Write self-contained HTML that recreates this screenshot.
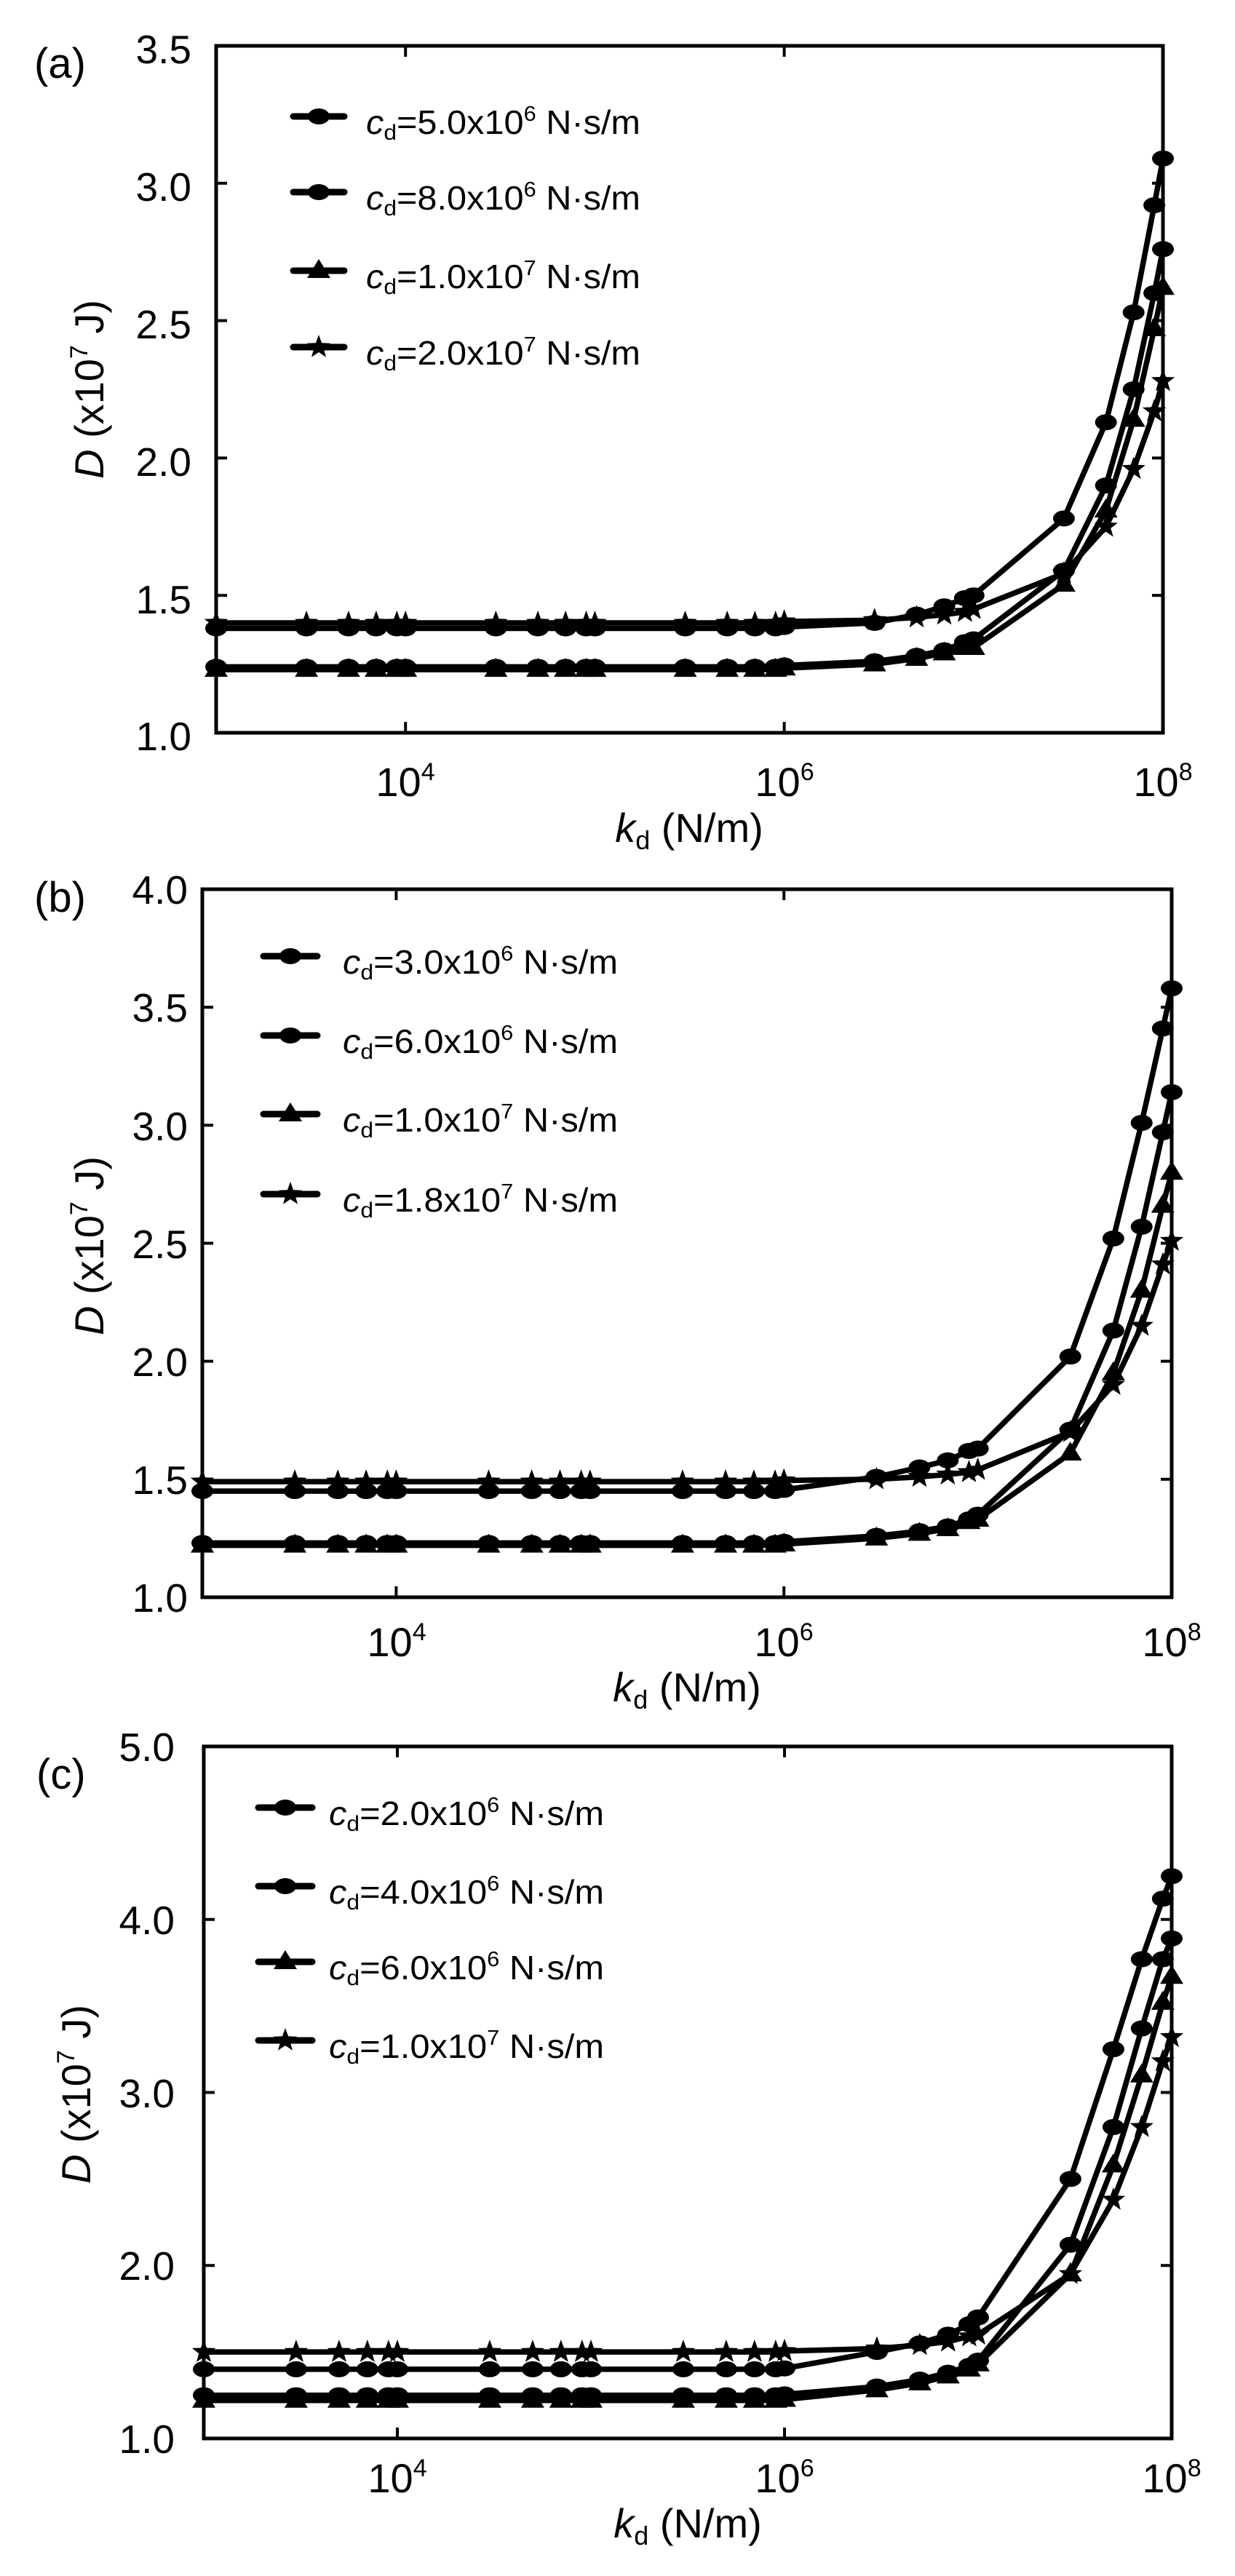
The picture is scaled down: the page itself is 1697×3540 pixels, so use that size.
<!DOCTYPE html>
<html><head><meta charset="utf-8">
<style>
html,body{margin:0;padding:0;background:#fff;}
svg{display:block;}
text{font-family:"Liberation Sans",Arial,sans-serif;fill:#000;}
</style></head>
<body>
<svg id="s" width="1697" height="3540" viewBox="0 0 1697 3540" xmlns="http://www.w3.org/2000/svg">
<rect width="1697" height="3540" fill="#fff"/>
<text x="47" y="107" font-size="58">(a)</text>
<text x="47" y="1253" font-size="58">(b)</text>
<text x="50" y="2458" font-size="58">(c)</text>

<g font-size="55" text-anchor="end">
<text x="263" y="87">3.5</text><text x="263" y="276">3.0</text><text x="263" y="465">2.5</text>
<text x="263" y="654">2.0</text><text x="263" y="843">1.5</text><text x="263" y="1031">1.0</text>
</g>
<g font-size="55" text-anchor="end">
<text x="258" y="1242">4.0</text><text x="258" y="1404">3.5</text><text x="258" y="1567">3.0</text>
<text x="258" y="1729">2.5</text><text x="258" y="1891">2.0</text><text x="258" y="2053">1.5</text><text x="258" y="2215">1.0</text>
</g>
<g font-size="55" text-anchor="end">
<text x="240" y="2420">5.0</text><text x="240" y="2658">4.0</text><text x="240" y="2896">3.0</text>
<text x="240" y="3133">2.0</text><text x="240" y="3371">1.0</text>
</g>

<g font-size="56" text-anchor="middle">
<text x="557" y="1094">10<tspan font-size="34" dy="-22">4</tspan></text>
<text x="1078" y="1094">10<tspan font-size="34" dy="-22">6</tspan></text>
<text x="1598" y="1094">10<tspan font-size="34" dy="-22">8</tspan></text>
<text x="545" y="2276">10<tspan font-size="34" dy="-22">4</tspan></text>
<text x="1077" y="2276">10<tspan font-size="34" dy="-22">6</tspan></text>
<text x="1610" y="2276">10<tspan font-size="34" dy="-22">8</tspan></text>
<text x="546" y="3425">10<tspan font-size="34" dy="-22">4</tspan></text>
<text x="1078" y="3425">10<tspan font-size="34" dy="-22">6</tspan></text>
<text x="1610" y="3425">10<tspan font-size="34" dy="-22">8</tspan></text>
</g>
<g font-size="56" text-anchor="middle">
<text x="947" y="1157"><tspan font-style="italic">k</tspan><tspan font-size="36" dy="10">d</tspan><tspan dy="-10"> (N/m)</tspan></text>
<text x="944" y="2338"><tspan font-style="italic">k</tspan><tspan font-size="36" dy="10">d</tspan><tspan dy="-10"> (N/m)</tspan></text>
<text x="945" y="3487"><tspan font-style="italic">k</tspan><tspan font-size="36" dy="10">d</tspan><tspan dy="-10"> (N/m)</tspan></text>
</g>
<g font-size="56" text-anchor="middle">
<text transform="translate(142,535) rotate(-90)"><tspan font-style="italic">D</tspan> (x10<tspan font-size="34" dy="-22">7</tspan><tspan dy="22"> J)</tspan></text>
<text transform="translate(142,1712) rotate(-90)"><tspan font-style="italic">D</tspan> (x10<tspan font-size="34" dy="-22">7</tspan><tspan dy="22"> J)</tspan></text>
<text transform="translate(124,2878) rotate(-90)"><tspan font-style="italic">D</tspan> (x10<tspan font-size="34" dy="-22">7</tspan><tspan dy="22"> J)</tspan></text>
</g>

<g font-size="46">
<text x="503" y="184" textLength="377" lengthAdjust="spacingAndGlyphs"><tspan font-style="italic">c</tspan><tspan font-size="30" dy="8">d</tspan><tspan dy="-8">=5.0x10</tspan><tspan font-size="29" dy="-18">6</tspan><tspan dy="18"> N·s/m</tspan></text>
<text x="503" y="288" textLength="377" lengthAdjust="spacingAndGlyphs"><tspan font-style="italic">c</tspan><tspan font-size="30" dy="8">d</tspan><tspan dy="-8">=8.0x10</tspan><tspan font-size="29" dy="-18">6</tspan><tspan dy="18"> N·s/m</tspan></text>
<text x="503" y="396" textLength="377" lengthAdjust="spacingAndGlyphs"><tspan font-style="italic">c</tspan><tspan font-size="30" dy="8">d</tspan><tspan dy="-8">=1.0x10</tspan><tspan font-size="29" dy="-18">7</tspan><tspan dy="18"> N·s/m</tspan></text>
<text x="503" y="501" textLength="377" lengthAdjust="spacingAndGlyphs"><tspan font-style="italic">c</tspan><tspan font-size="30" dy="8">d</tspan><tspan dy="-8">=2.0x10</tspan><tspan font-size="29" dy="-18">7</tspan><tspan dy="18"> N·s/m</tspan></text>

<text x="471" y="1338" textLength="378" lengthAdjust="spacingAndGlyphs"><tspan font-style="italic">c</tspan><tspan font-size="30" dy="8">d</tspan><tspan dy="-8">=3.0x10</tspan><tspan font-size="29" dy="-18">6</tspan><tspan dy="18"> N·s/m</tspan></text>
<text x="471" y="1447" textLength="378" lengthAdjust="spacingAndGlyphs"><tspan font-style="italic">c</tspan><tspan font-size="30" dy="8">d</tspan><tspan dy="-8">=6.0x10</tspan><tspan font-size="29" dy="-18">6</tspan><tspan dy="18"> N·s/m</tspan></text>
<text x="471" y="1555" textLength="378" lengthAdjust="spacingAndGlyphs"><tspan font-style="italic">c</tspan><tspan font-size="30" dy="8">d</tspan><tspan dy="-8">=1.0x10</tspan><tspan font-size="29" dy="-18">7</tspan><tspan dy="18"> N·s/m</tspan></text>
<text x="471" y="1665" textLength="378" lengthAdjust="spacingAndGlyphs"><tspan font-style="italic">c</tspan><tspan font-size="30" dy="8">d</tspan><tspan dy="-8">=1.8x10</tspan><tspan font-size="29" dy="-18">7</tspan><tspan dy="18"> N·s/m</tspan></text>

<text x="452" y="2508" textLength="378" lengthAdjust="spacingAndGlyphs"><tspan font-style="italic">c</tspan><tspan font-size="30" dy="8">d</tspan><tspan dy="-8">=2.0x10</tspan><tspan font-size="29" dy="-18">6</tspan><tspan dy="18"> N·s/m</tspan></text>
<text x="452" y="2616" textLength="378" lengthAdjust="spacingAndGlyphs"><tspan font-style="italic">c</tspan><tspan font-size="30" dy="8">d</tspan><tspan dy="-8">=4.0x10</tspan><tspan font-size="29" dy="-18">6</tspan><tspan dy="18"> N·s/m</tspan></text>
<text x="452" y="2720" textLength="378" lengthAdjust="spacingAndGlyphs"><tspan font-style="italic">c</tspan><tspan font-size="30" dy="8">d</tspan><tspan dy="-8">=6.0x10</tspan><tspan font-size="29" dy="-18">6</tspan><tspan dy="18"> N·s/m</tspan></text>
<text x="452" y="2828" textLength="378" lengthAdjust="spacingAndGlyphs"><tspan font-style="italic">c</tspan><tspan font-size="30" dy="8">d</tspan><tspan dy="-8">=1.0x10</tspan><tspan font-size="29" dy="-18">7</tspan><tspan dy="18"> N·s/m</tspan></text>
</g>
<g id="dyn"></g>
</svg>
<script>
(function(){
var NS="http://www.w3.org/2000/svg",g=document.getElementById("dyn");
function el(n,a){var e=document.createElementNS(NS,n);for(var k in a)e.setAttribute(k,a[k]);g.appendChild(e);return e;}
function marker(t,x,y){
 if(t==0){el("ellipse",{cx:x,cy:y,rx:15,ry:11,fill:"#000"});}
 else if(t==1){el("polygon",{points:(x)+","+(y-16)+" "+(x+16)+","+(y+10)+" "+(x-16)+","+(y+10),fill:"#000"});}
 else{var p=[];for(var i=0;i<10;i++){var r=i%2?7:17,a=-Math.PI/2+i*Math.PI/5;p.push((x+r*Math.cos(a)).toFixed(1)+","+(y+r*Math.sin(a)).toFixed(1));}
  el("polygon",{points:p.join(" "),fill:"#000"});}
}
var L3=Math.log10(3),L5=Math.log10(5),L7=Math.log10(7),L9=Math.log10(9);
var xs=[];for(var n=3;n<=7;n++){xs.push(n,n+L3,n+L5,n+L7,n+L9);}xs.push(8);
var P=[
 {L:297,R:1598,T:63,B:1007,ymax:3.5,ticks:[1.5,2,2.5,3],
  leg:{x1:403,x2:473,ys:[160,264,372,477]},
  S:[[1.38,[1.40,1.43,1.46,1.49,1.50,1.78,2.13,2.53,2.92,3.09],0],
     [1.24,[1.26,1.28,1.30,1.33,1.34,1.59,1.90,2.25,2.60,2.76],0],
     [1.23,[1.25,1.27,1.29,1.31,1.31,1.54,1.81,2.14,2.47,2.62],1],
     [1.40,[1.41,1.42,1.43,1.44,1.45,1.58,1.75,1.96,2.17,2.28],2]]},
 {L:278,R:1610,T:1222,B:2195,ymax:4,ticks:[1.5,2,2.5,3,3.5],
  leg:{x1:362,x2:436,ys:[1314,1423,1531,1641]},
  S:[[1.45,[1.51,1.55,1.58,1.62,1.63,2.02,2.52,3.01,3.41,3.58],0],
     [1.23,[1.26,1.28,1.30,1.33,1.35,1.71,2.13,2.57,2.97,3.14],0],
     [1.22,[1.25,1.27,1.29,1.32,1.33,1.61,1.95,2.30,2.66,2.80],1],
     [1.49,[1.50,1.51,1.52,1.53,1.54,1.70,1.90,2.15,2.41,2.51],2]]},
 {L:280,R:1610,T:2400,B:3351,ymax:5,ticks:[2,3,4],
  leg:{x1:355,x2:429,ys:[2484,2592,2696,2804]},
  S:[[1.40,[1.50,1.55,1.60,1.66,1.70,2.50,3.25,3.77,4.12,4.25],0],
     [1.25,[1.30,1.34,1.38,1.42,1.45,2.12,2.80,3.37,3.77,3.89],0],
     [1.22,[1.28,1.32,1.36,1.40,1.43,1.95,2.58,3.10,3.52,3.67],1],
     [1.50,[1.52,1.54,1.56,1.59,1.60,1.95,2.38,2.80,3.18,3.32],2]]}
];
P.forEach(function(p){
 var dx=(p.R-p.L)/5;
 function X(l){return p.L+(l-3)*dx;}
 function Y(v){return p.B-(v-1)/(p.ymax-1)*(p.B-p.T);}
 el("rect",{x:p.L,y:p.T,width:p.R-p.L,height:p.B-p.T,fill:"none",stroke:"#000","stroke-width":5});
 p.ticks.forEach(function(t){var y=Y(t);
  el("line",{x1:p.L,y1:y,x2:p.L+15,y2:y,stroke:"#000","stroke-width":4});
  el("line",{x1:p.R,y1:y,x2:p.R-15,y2:y,stroke:"#000","stroke-width":4});});
 [4,6].forEach(function(l){var x=X(l);
  el("line",{x1:x,y1:p.T,x2:x,y2:p.T+15,stroke:"#000","stroke-width":4});
  el("line",{x1:x,y1:p.B,x2:x,y2:p.B-15,stroke:"#000","stroke-width":4});});
 p.S.forEach(function(s){
  var pts=xs.map(function(l,i){var v= i<=15 ? s[0]+(i==15?0.005:0) : s[1][i-16];return [X(l),Y(v)];});
  el("polyline",{points:pts.map(function(q){return q[0].toFixed(1)+","+q[1].toFixed(1);}).join(" "),fill:"none",stroke:"#000","stroke-width":7.5,"stroke-linejoin":"round"});
  s.pts=pts;});
 p.S.forEach(function(s){s.pts.forEach(function(q){marker(s[2],q[0],q[1]);});});
 p.S.forEach(function(s,i){var y=p.leg.ys[i];
  el("line",{x1:p.leg.x1,y1:y,x2:p.leg.x2,y2:y,stroke:"#000","stroke-width":9,"stroke-linecap":"round"});
  marker(s[2],(p.leg.x1+p.leg.x2)/2,y);});
});
})();
</script>
</body></html>
